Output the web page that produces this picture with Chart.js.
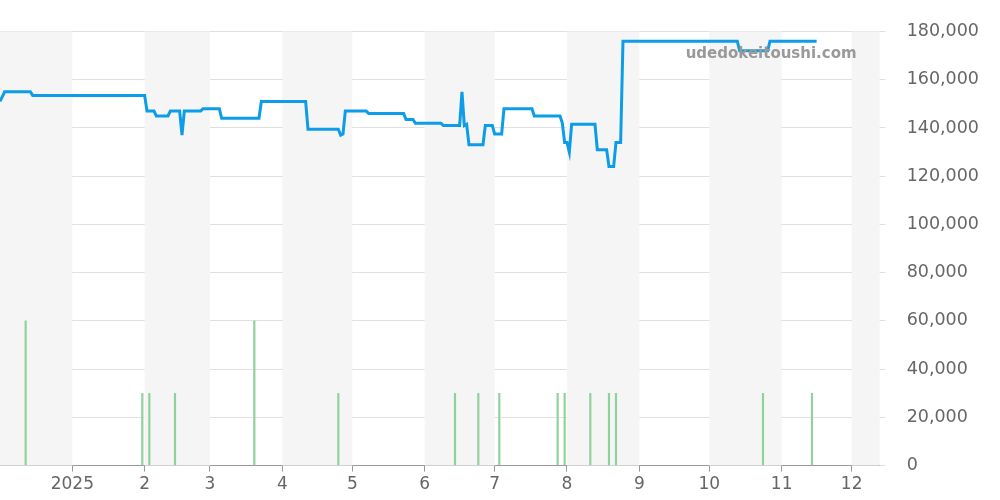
<!DOCTYPE html>
<html><head><meta charset="utf-8">
<script src="https://cdn.jsdelivr.net/npm/chart.js@4"></script>
<style>html,body{margin:0;padding:0;background:#fff}#w{width:1000px;height:500px}</style>
</head><body><div id="w"><canvas id="c"></canvas></div>
<script>
const priceDates=["2024-12-01","2024-12-03","2024-12-14","2024-12-15","2025-02-01","2025-02-02","2025-02-05","2025-02-06","2025-02-11","2025-02-12","2025-02-16","2025-02-17","2025-02-18","2025-02-25","2025-02-26","2025-03-05","2025-03-06","2025-03-22","2025-03-23","2025-04-11","2025-04-12","2025-04-25","2025-04-26","2025-04-27","2025-04-28","2025-05-07","2025-05-08","2025-05-23","2025-05-24","2025-05-27","2025-05-28","2025-06-08","2025-06-09","2025-06-16","2025-06-17","2025-06-18","2025-06-19","2025-06-20","2025-06-26","2025-06-27","2025-06-30","2025-07-01","2025-07-04","2025-07-05","2025-07-17","2025-07-18","2025-07-29","2025-07-30","2025-07-31","2025-08-01","2025-08-02","2025-08-03","2025-08-13","2025-08-14","2025-08-18","2025-08-19","2025-08-21","2025-08-22","2025-08-24","2025-08-25","2025-10-13","2025-10-14","2025-10-26","2025-10-27","2025-11-16"];
const priceValues=[151000,155000,155000,153500,153500,147000,147000,145000,145000,147000,147000,137000,147000,147000,148000,148000,144000,144000,151000,151000,139500,139500,137000,137500,147000,147000,146000,146000,143500,143500,142000,142000,141000,141000,155000,141000,141500,133000,133000,141000,141000,137500,137500,148000,148000,145000,145000,142000,134000,134000,130000,141500,141500,131000,131000,124000,124000,134000,134000,176000,176000,172000,172000,176000,176000];
const volumeDates=["2024-12-12","2025-01-31","2025-02-03","2025-02-14","2025-03-20","2025-04-25","2025-06-14","2025-06-24","2025-07-03","2025-07-28","2025-07-31","2025-08-11","2025-08-19","2025-08-22","2025-10-24","2025-11-14"];
const volumeValues=[60000,30000,30000,30000,60000,30000,30000,30000,30000,30000,30000,30000,30000,30000,30000,30000];
const monthTicks=["2024-12-01","2025-01-01","2025-02-01","2025-03-01","2025-04-01","2025-05-01","2025-06-01","2025-07-01","2025-08-01","2025-09-01","2025-10-01","2025-11-01","2025-12-01"];
const monthLabels=["","2025","2","3","4","5","6","7","8","9","10","11","12"];
const xMin="2024-12-01", xMax="2025-12-13";
const t=s=>Date.parse(s+"T00:00:00Z");
const tickVals=monthTicks.map(t);

const bands={id:'bands',beforeDatasetsDraw(ch){const {ctx,chartArea:a,scales:{x}}=ch;ctx.save();ctx.fillStyle='#f5f5f5';
 for(let i=0;i<tickVals.length;i+=2){const x0=Math.max(a.left,x.getPixelForValue(tickVals[i]));const x1=Math.min(a.right,i+1<tickVals.length?x.getPixelForValue(tickVals[i+1]):a.right);ctx.fillRect(x0,a.top,x1-x0,a.bottom-a.top);}
 ctx.restore();}};
const mark={id:'mark',afterDraw(ch){const {ctx,chartArea:a}=ch;ctx.save();ctx.font='bold 15px "DejaVu Sans"';ctx.fillStyle='#999';ctx.textAlign='right';ctx.textBaseline='middle';ctx.fillText('udedokeitoushi.com',a.right-23,a.top+23);ctx.restore();}};

new Chart(document.getElementById('c'),{
 data:{datasets:[
  {type:'line',data:priceDates.map((d,i)=>({x:t(d),y:priceValues[i]})),borderColor:'#0d9ce8',borderWidth:3,pointRadius:0,tension:0,order:1},
  {type:'bar',data:volumeDates.map((d,i)=>({x:t(d),y:volumeValues[i]})),backgroundColor:'#8fd19a',barThickness:1.5,order:2}
 ]},
 options:{responsive:true,maintainAspectRatio:false,animation:false,
  layout:{padding:{top:31,left:0,right:0,bottom:2}},
  plugins:{legend:{display:false},tooltip:{enabled:false}},
  scales:{
   x:{type:'linear',min:t(xMin),max:t(xMax),offset:false,
    afterBuildTicks(s){s.ticks=tickVals.slice(1).map(v=>({value:v}));},
    ticks:{callback:(v)=>monthLabels[tickVals.indexOf(v)],font:{family:'DejaVu Sans',size:17},color:'#666',maxRotation:0,autoSkip:false},
    grid:{display:true,offset:false,drawOnChartArea:false,drawTicks:true,tickLength:6,color:'#999'},border:{color:'#999'}},
   y:{position:'right',min:0,max:180000,
    ticks:{stepSize:20000,callback:v=>v.toLocaleString('en-US'),font:{family:'DejaVu Sans',size:17.5},color:'#666',padding:21},
    grid:{color:'#e0e0e0',tickLength:6},border:{display:false}}
  }},
 plugins:[bands,mark]
});
</script></body></html>
